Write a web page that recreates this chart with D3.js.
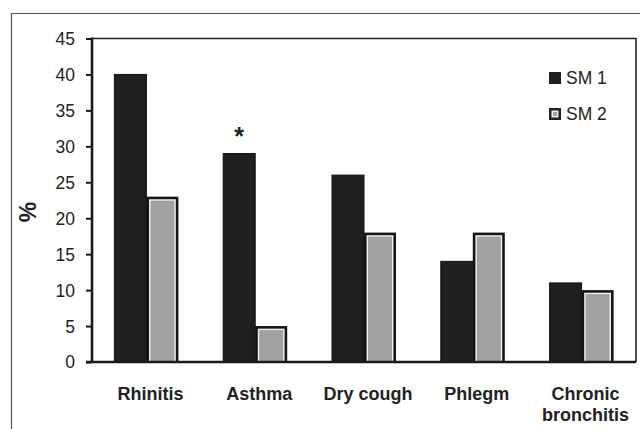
<!DOCTYPE html>
<html><head><meta charset="utf-8">
<script src="https://cdn.jsdelivr.net/npm/d3@7"></script>
<style>html,body{margin:0;padding:0;background:#fff;}svg{display:block;}</style>
</head><body>
<svg id="c" width="640" height="429"></svg>
<script>
const categories = [["Rhinitis"], ["Asthma"], ["Dry cough"], ["Phlegm"], ["Chronic", "bronchitis"]];
const seriesNames = ["SM 1", "SM 2"];
const sm1 = [40, 29, 26, 14, 11];
const sm2 = [23, 5, 18, 18, 10];
const yTicks = [0, 5, 10, 15, 20, 25, 30, 35, 40, 45];
const significant = [false, true, false, false, false];

const svg = d3.select("#c");
const m = {left: 92, right: 636, top: 38.5, bottom: 362};
const keys = categories.map(c => c.join(" "));

const x = d3.scaleBand().domain(keys).range([m.left, m.right]).paddingInner(0).paddingOuter(0);
const y = d3.scaleLinear().domain([0, 45]).range([m.bottom, m.top]);

// outer frame
svg.append("path").attr("d", `M11.5,430 V13.5 H641`).attr("fill", "none").attr("stroke", "#555").attr("stroke-width", 1.2);

// bars
const groupW = 64;
const data = keys.map((k, i) => ({k, v: [sm1[i], sm2[i]], i}));
const g = svg.append("g");
data.forEach(d => {
  const x0 = x(d.k) + (x.bandwidth() - groupW) / 2;
  const bw = groupW / 2;
  g.append("rect").attr("x", x0).attr("y", y(d.v[0])).attr("width", bw).attr("height", y(0) - y(d.v[0]))
    .attr("fill", "#1f1f1f").attr("stroke", "#111").attr("stroke-width", 1);
  const x1 = x0 + bw;
  const top = y(d.v[1]);
  const h = y(0) - top;
  g.append("rect").attr("x", x1).attr("y", top).attr("width", bw).attr("height", h).attr("fill", "#151515");
  g.append("rect").attr("x", x1 + 2.6).attr("y", top + 2.6).attr("width", bw - 5.2).attr("height", Math.max(0, h - 2.6)).attr("fill", "#f2f2f2");
  g.append("rect").attr("x", x1 + 4).attr("y", top + 4).attr("width", bw - 8).attr("height", Math.max(0, h - 4)).attr("fill", "#a2a2a4");
  if (significant[d.i]) {
    g.append("text").attr("x", x0 + bw / 2).attr("y", y(d.v[0]) - 9).attr("text-anchor", "middle")
      .attr("font-family", "Liberation Sans, Arial, sans-serif").attr("font-weight", "bold").attr("font-size", 25)
      .attr("fill", "#222").text("*");
  }
});

// plot border top/right
svg.append("path").attr("d", `M${m.left},${m.top} H${m.right} V${m.bottom}`).attr("fill", "none").attr("stroke", "#222").attr("stroke-width", 1.6);

// y axis
const yAxis = d3.axisLeft(y).tickValues(yTicks).tickSize(6).tickPadding(11);
const ya = svg.append("g").attr("transform", `translate(${m.left},0)`).call(yAxis);
ya.select(".domain").attr("stroke", "#1a1a1a").attr("stroke-width", 2.6).attr("d", `M0,${m.top - 1}V${m.bottom + 1}`);
ya.selectAll(".tick line").attr("stroke", "#1a1a1a").attr("stroke-width", 2);
ya.selectAll(".tick text").attr("font-family", "Liberation Sans, Arial, sans-serif").attr("font-size", 17.5).attr("fill", "#222").attr("dy", "0.34em");

// x axis baseline
const xAxis = d3.axisBottom(x).tickSize(0).tickFormat("");
const xa = svg.append("g").attr("transform", `translate(0,${m.bottom})`).call(xAxis);
xa.select(".domain").attr("stroke", "#1a1a1a").attr("stroke-width", 2.6).attr("d", `M${m.left - 6},0H${m.right}`);

// category labels
const lab = svg.append("g").attr("font-family", "Liberation Sans, Arial, sans-serif").attr("font-weight", "bold")
  .attr("font-size", 18).attr("fill", "#222").attr("text-anchor", "middle");
categories.forEach((c, i) => {
  const cx = x(keys[i]) + x.bandwidth() / 2 + 4;
  const t = lab.append("text").attr("x", cx).attr("y", 400);
  c.forEach((line, j) => t.append("tspan").attr("x", cx).attr("dy", j === 0 ? 0 : 21).text(line));
});

// y label
svg.append("text").attr("transform", "translate(36,212) rotate(-90)").attr("text-anchor", "middle")
  .attr("font-family", "Liberation Sans, Arial, sans-serif").attr("font-weight", "bold").attr("font-size", 23)
  .attr("fill", "#222").text("%");

// legend
const leg = svg.append("g");
seriesNames.forEach((s, i) => {
  const ly = 72 + i * 36;
  if (i === 0) {
    leg.append("rect").attr("x", 549).attr("y", ly).attr("width", 12).attr("height", 12).attr("fill", "#1f1f1f");
  } else {
    leg.append("rect").attr("x", 549).attr("y", ly).attr("width", 12).attr("height", 12).attr("fill", "#222");
    leg.append("rect").attr("x", 551.5).attr("y", ly + 2.5).attr("width", 7).attr("height", 7).attr("fill", "#eee");
    leg.append("rect").attr("x", 553).attr("y", ly + 4).attr("width", 4).attr("height", 4).attr("fill", "#a2a2a4");
  }
  leg.append("text").attr("x", 566).attr("y", ly + 12).attr("font-family", "Liberation Sans, Arial, sans-serif")
    .attr("font-size", 17.5).attr("fill", "#222").text(s);
});
</script>
</body></html>
